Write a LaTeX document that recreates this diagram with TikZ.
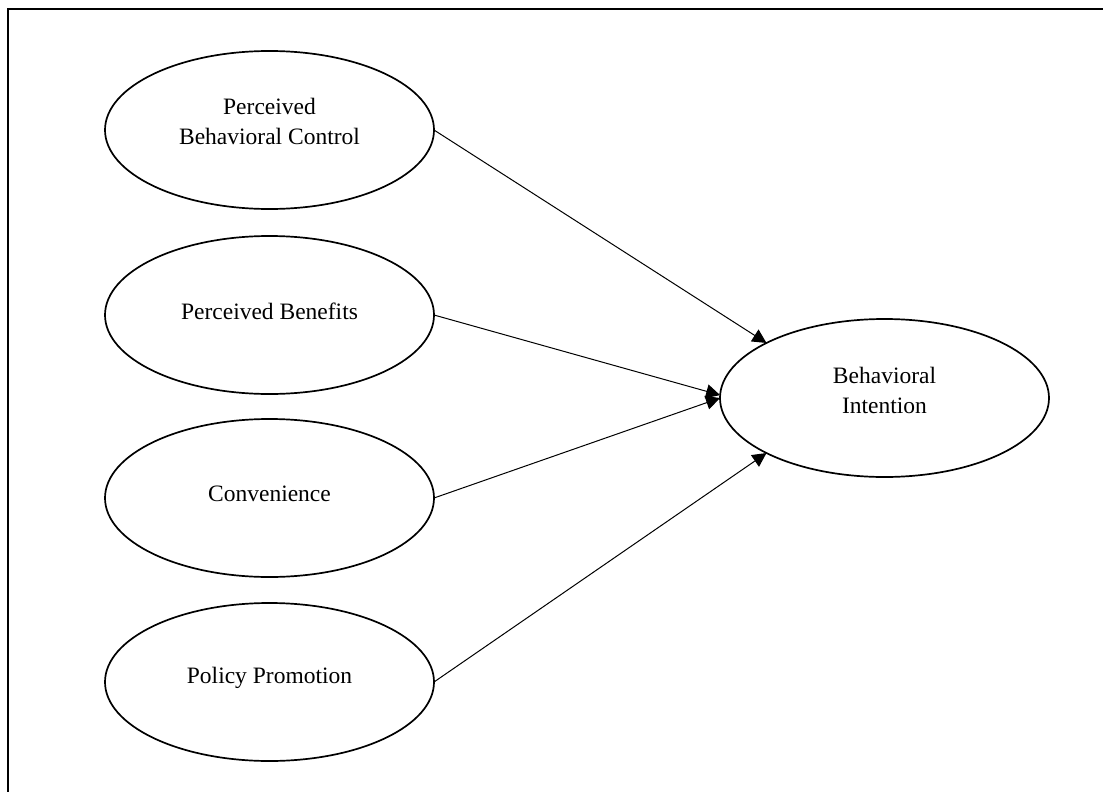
\documentclass[tikz,border=0pt]{standalone}
\usepackage{fontspec}
\setmainfont{Liberation Serif}
\usetikzlibrary{shapes.geometric,arrows.meta}
\tikzset{
  construct/.style={ellipse, draw, line width=1.7pt, minimum width=329pt, minimum height=158pt, inner sep=0pt, outer sep=0pt},
  lbl/.style={align=center, inner sep=0pt, font=\fontsize{23.5}{30}\selectfont},
  path/.style={line width=1pt, -{Triangle[length=14pt,width=14pt]}},
}
\begin{document}
\begin{tikzpicture}[x=1pt,y=-1pt]
\useasboundingbox (0,0) rectangle (1103,792);
\draw[line width=2pt] (8,792) -- (8,9) -- (1103,9);
\node[construct] (pbc) at (269.5,130) {};
\node[construct] (pb) at (269.5,315) {};
\node[construct] (conv) at (269.5,498) {};
\node[construct] (pp) at (269.5,682) {};
\node[construct] (bi) at (884.5,398) {};
\node[lbl] (pbc-t) at ([yshift=8.5pt]pbc.center) {Perceived\\Behavioral Control};
\node[lbl] (pb-t) at ([yshift=4pt]pb.center) {Perceived Benefits};
\node[lbl] (conv-t) at ([yshift=4pt]conv.center) {Convenience};
\node[lbl] (pp-t) at ([yshift=4pt]pp.center) {Policy Promotion};
\node[lbl] (bi-t) at ([yshift=7.5pt]bi.center) {Behavioral\\Intention};
\draw[path] (pbc.east) -- (bi.155);
\draw[path] (pb.east) -- (bi.179.4);
\draw[path] (conv.east) -- (bi.180.6);
\draw[path] (pp.east) -- (bi.205);
\end{tikzpicture}
\end{document}
